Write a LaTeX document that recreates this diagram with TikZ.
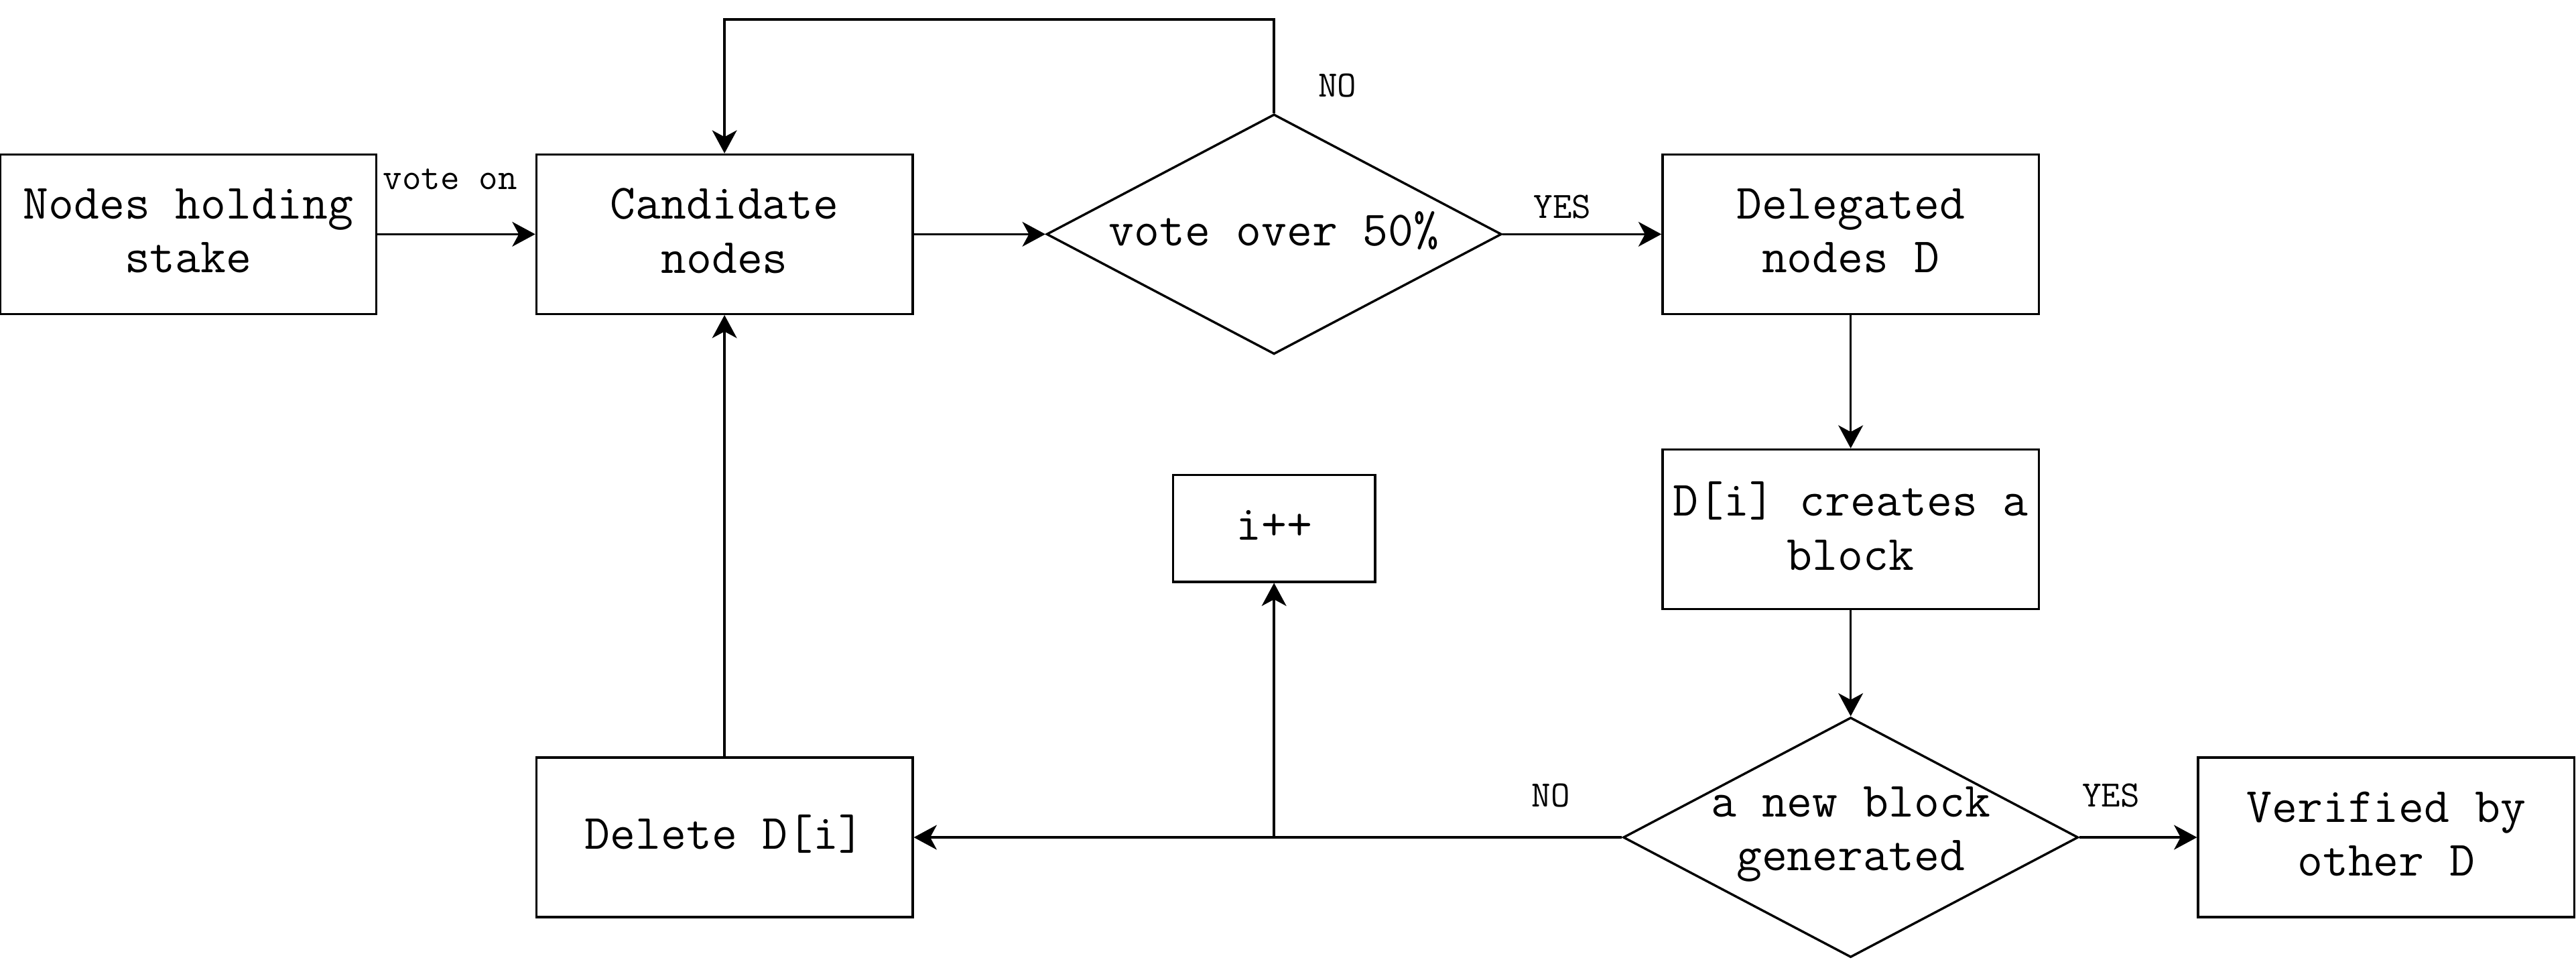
\documentclass[tikz,border=0pt]{standalone}
\usetikzlibrary{shapes.geometric,arrows.meta}
\begin{document}
\begin{tikzpicture}[x=0.5pt,y=-0.5pt,
  line width=0.7pt,
  txt/.style={font=\fontsize{15}{16.4}\selectfont\ttfamily, align=center, inner sep=0pt, yshift=1pt},
  lbl/.style={font=\fontsize{11.3}{13}\selectfont\ttfamily, inner sep=0pt},
  box/.style={draw, rectangle, inner sep=0pt, minimum width=114.5pt, minimum height=48.5pt},
  decision/.style={draw, diamond, inner sep=0pt, minimum width=138.5pt, minimum height=73pt},
  arr/.style={-{Stealth[length=7pt,width=7.5pt,inset=2pt]}}]
\useasboundingbox (0,0) rectangle (1568,584);
% shapes
\node[box] (A) at (114.5,142.5) {};
\node[box] (B) at (441,142.5) {};
\node[decision] (D1) at (775.5,142.5) {};
\node[box] (C) at (1126.5,142.5) {};
\node[box] (E) at (1126.5,322) {};
\node[decision] (D2) at (1126.5,509.5) {};
\node[box] (F) at (1452.5,509.5) {};
\node[box] (G) at (441,509.5) {};
\node[draw, rectangle, inner sep=0pt, minimum width=61.5pt, minimum height=32.5pt] (H) at (775.5,321.5) {};
% texts
\node[txt] (At) at (A.center) {Nodes holding\\stake};
\node[txt] (Bt) at (B.center) {Candidate\\nodes};
\node[txt] (D1t) at (D1.center) {vote over 50\%};
\node[txt] (Ct) at (C.center) {Delegated\\nodes D};
\node[txt] (Et) at (E.center) {D[i] creates a\\block};
\node[txt] (D2t) at (D2.center) {a new block\\generated};
\node[txt] (Ft) at (F.center) {Verified by\\other D};
\node[txt] (Gt) at (G.center) {Delete D[i]};
\node[txt] (Ht) at (H.center) {i++};
% connectors
\draw[arr] (A.east) -- (B.west);
\draw[arr] (B.east) -- (D1.west);
\draw[arr] (D1.north) -- ++(0,-57) -| (B.north);
\draw[arr] (D1.east) -- (C.west);
\draw[arr] (C.south) -- (E.north);
\draw[arr] (E.south) -- (D2.north);
\draw[arr] (D2.east) -- (F.west);
\draw[arr] (D2.west) -- (G.east);
\coordinate (br) at (H.south |- D2.west);
\draw[arr] (br) -- (H.south);
\draw[arr] (G.north) -- (B.south);
% labels
\node[lbl] (l1) at (274,109) {vote on};
\node[lbl] (l2) at (814,52) {NO};
\node[lbl] (l3) at (951,126) {YES};
\node[lbl] (l4) at (944,484) {NO};
\node[lbl] (l5) at (1285,484) {YES};
\end{tikzpicture}
\end{document}
